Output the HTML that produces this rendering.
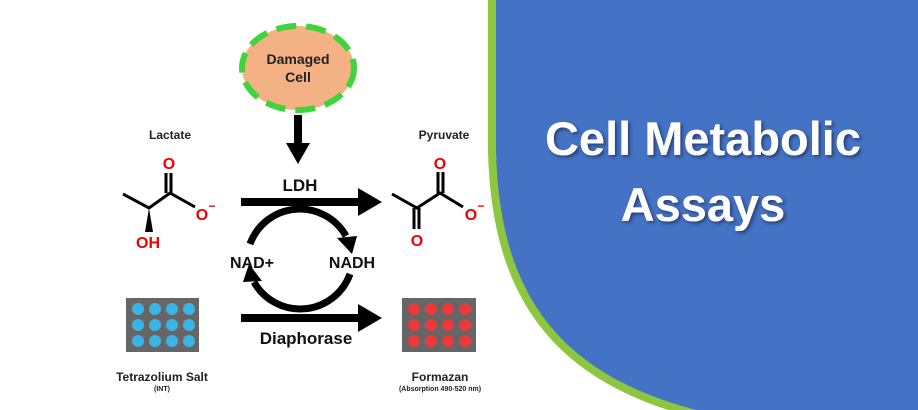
<!DOCTYPE html>
<html><head><meta charset="utf-8"><style>
body{margin:0;width:918px;height:410px;overflow:hidden;background:#fff;font-family:"Liberation Sans",sans-serif}
svg{display:block}
</style></head><body>
<svg width="918" height="410" viewBox="0 0 918 410" xmlns="http://www.w3.org/2000/svg" font-family="Liberation Sans, sans-serif" font-weight="bold">
<defs>
<filter id="sh" x="-10%" y="-10%" width="120%" height="130%"><feDropShadow dx="2" dy="2" stdDeviation="1.5" flood-color="#1a2a55" flood-opacity="0.7"/></filter>
</defs>
<path d="M492,-5 L492,150 C495,300 560,380 700,415 L925,415 L925,-5 Z" fill="#4472c4" stroke="#8dc63f" stroke-width="8"/>
<g filter="url(#sh)" fill="#fff" font-size="47" text-anchor="middle">
<text x="703" y="155">Cell Metabolic</text>
<text x="703" y="221">Assays</text>
</g>
<ellipse cx="298" cy="68" rx="56" ry="42" fill="#f4b183" stroke="#3fd43a" stroke-width="6" stroke-dasharray="20 10"/>
<text x="298" y="64" font-size="14" text-anchor="middle" fill="#222">Damaged</text>
<text x="298" y="82" font-size="14" text-anchor="middle" fill="#222">Cell</text>
<rect x="294" y="115" width="8" height="30" fill="#000"/>
<polygon points="286,143 310,143 298,164" fill="#000"/>
<g font-size="12" text-anchor="middle" fill="#222">
<text x="170" y="139">Lactate</text>
<text x="444" y="139">Pyruvate</text>
<text x="162" y="381">Tetrazolium Salt</text>
<text x="440" y="381">Formazan</text>
</g>
<g font-size="7" text-anchor="middle" fill="#222">
<text x="162" y="391">(INT)</text>
<text x="440" y="391">(Absorption 490-520 nm)</text>
</g>
<rect x="241" y="198" width="120" height="8" fill="#000"/>
<polygon points="358,188 382,202 358,216" fill="#000"/>
<rect x="241" y="314" width="120" height="8" fill="#000"/>
<polygon points="358,304 382,318 358,332" fill="#000"/>
<g font-size="17" text-anchor="middle" fill="#111">
<text x="300" y="191">LDH</text>
<text x="306" y="344">Diaphorase</text>
<text x="252" y="268" font-size="16">NAD+</text>
<text x="352" y="268" font-size="16">NADH</text>
</g>
<path d="M250,244 A53,53 0 0 1 346,236" fill="none" stroke="#000" stroke-width="7"/>
<polygon points="337,238 357,236 352,254" fill="#000"/>
<path d="M350,274 A53,53 0 0 1 254,282" fill="none" stroke="#000" stroke-width="7"/>
<polygon points="243,282 262,281 249,264" fill="#000"/>
<g stroke="#000" stroke-width="3" fill="none">
<polyline points="123,194 149,208 170,193 195,207"/>
<line x1="166" y1="193" x2="166" y2="173"/><line x1="171" y1="193" x2="171" y2="173"/>
<polyline points="392,194 417,208 440,193 463,207"/>
<line x1="438" y1="193" x2="438" y2="172"/><line x1="443" y1="193" x2="443" y2="172"/>
<line x1="414" y1="208" x2="414" y2="229"/><line x1="419" y1="208" x2="419" y2="229"/>
</g>
<polygon points="149,208 145,232 153,232" fill="#000"/>
<g fill="#e00" font-size="16" text-anchor="middle">
<text x="169" y="169">O</text>
<text x="202" y="220">O</text><text x="212" y="210" font-size="12">−</text>
<text x="148" y="248">OH</text>
<text x="440" y="169">O</text>
<text x="471" y="220">O</text><text x="481" y="210" font-size="12">−</text>
<text x="417" y="246">O</text>
</g>
<rect x="126" y="298" width="73" height="54" fill="#666"/>
<rect x="402" y="298" width="74" height="54" fill="#666"/>
<g fill="#3bb4e5">
<circle cx="138" cy="309" r="6"/><circle cx="155" cy="309" r="6"/><circle cx="172" cy="309" r="6"/><circle cx="189" cy="309" r="6"/>
<circle cx="138" cy="325" r="6"/><circle cx="155" cy="325" r="6"/><circle cx="172" cy="325" r="6"/><circle cx="189" cy="325" r="6"/>
<circle cx="138" cy="341" r="6"/><circle cx="155" cy="341" r="6"/><circle cx="172" cy="341" r="6"/><circle cx="189" cy="341" r="6"/>
</g>
<g fill="#e83a3a">
<circle cx="414" cy="309" r="6"/><circle cx="431" cy="309" r="6"/><circle cx="448" cy="309" r="6"/><circle cx="465" cy="309" r="6"/>
<circle cx="414" cy="325" r="6"/><circle cx="431" cy="325" r="6"/><circle cx="448" cy="325" r="6"/><circle cx="465" cy="325" r="6"/>
<circle cx="414" cy="341" r="6"/><circle cx="431" cy="341" r="6"/><circle cx="448" cy="341" r="6"/><circle cx="465" cy="341" r="6"/>
</g>
</svg>
</body></html>
